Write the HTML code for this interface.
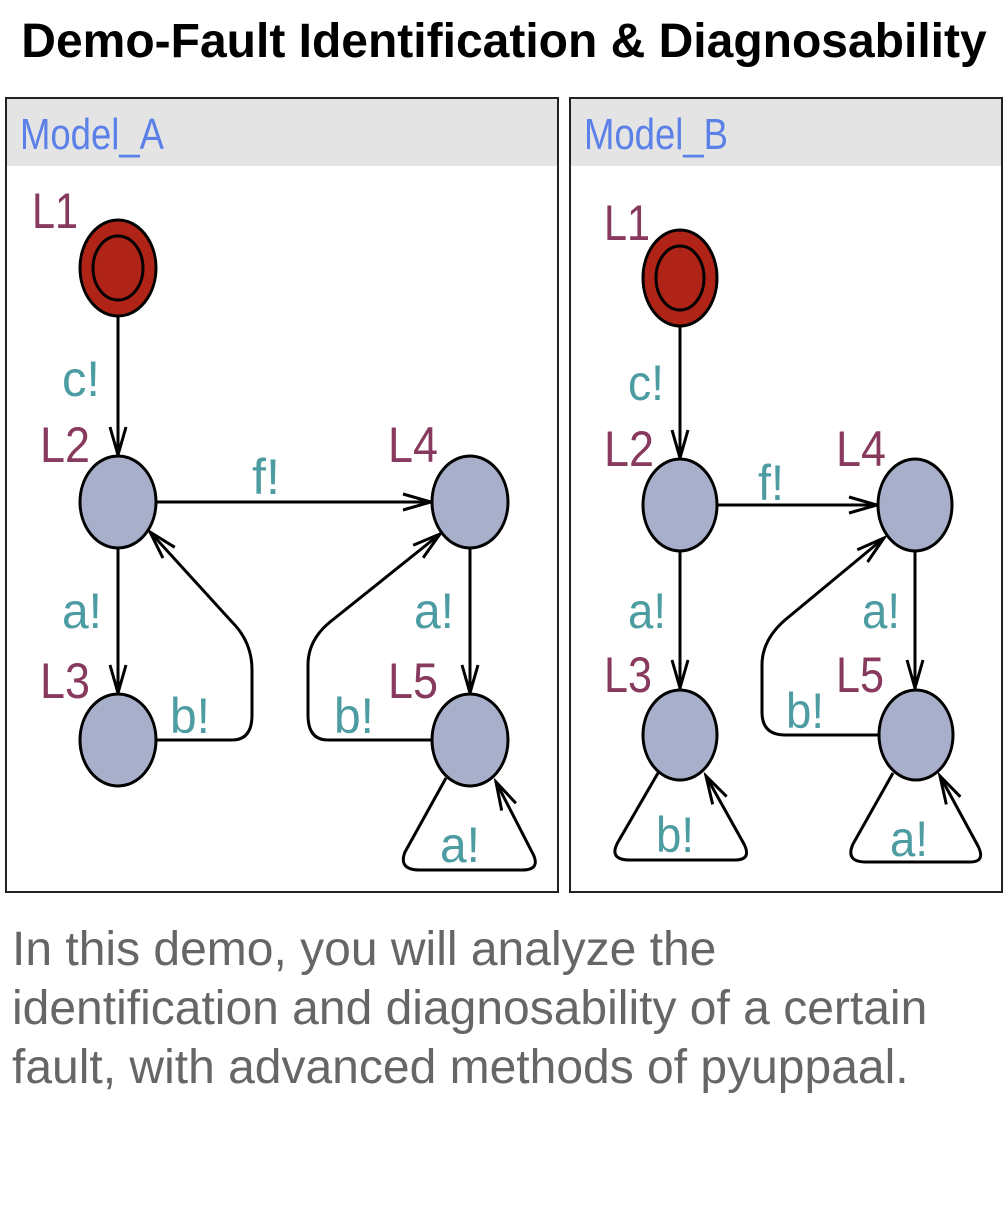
<!DOCTYPE html>
<html><head><meta charset="utf-8"><style>
html,body{margin:0;padding:0;background:#fff;}
body{width:1008px;height:1224px;position:relative;overflow:hidden;font-family:"Liberation Sans",sans-serif;}
.t{position:absolute;left:0;width:1008px;top:14px;text-align:center;font-weight:bold;font-size:48px;color:#000;white-space:nowrap;}
.d{position:absolute;left:12px;top:920px;font-size:48px;line-height:59px;color:#666;width:1000px;white-space:nowrap;}
svg{position:absolute;left:0;top:0;}
</style></head><body>
<div class="t">Demo-Fault Identification &amp; Diagnosability</div>
<svg width="1008" height="900" viewBox="0 0 1008 900">
<defs><marker id="ar" markerWidth="34" markerHeight="24" refX="30" refY="12" orient="auto" markerUnits="userSpaceOnUse"><path d="M2 4 L30 12 L2 20" fill="none" stroke="#000" stroke-width="3"/></marker></defs>
<g font-family="Liberation Sans, sans-serif">
<!-- Panel A -->
<rect x="6" y="98" width="552" height="794" fill="#fff" stroke="#222" stroke-width="2"/>
<rect x="7" y="99" width="550" height="67" fill="#e4e4e4"/>
<text x="20" y="149" font-size="44" fill="#5b80e8" textLength="144" lengthAdjust="spacingAndGlyphs">Model_A</text>
<g fill="none" stroke="#000" stroke-width="3">
<path d="M118 316 L118 455" marker-end="url(#ar)"/>
<path d="M156 502 L431 502" marker-end="url(#ar)"/>
<path d="M118 548 L118 693" marker-end="url(#ar)"/>
<path d="M470 548 L470 693" marker-end="url(#ar)"/>
<path d="M156 740 L232 740 Q252 740 252 715 L252 670 Q252 642 232 622 L150 532" marker-end="url(#ar)"/>
<path d="M432 740 L328 740 Q308 740 308 715 L308 665 Q308 640 330 622 L440 534" marker-end="url(#ar)"/>
<path d="M446 778 L405 852 Q398 870 420 870 L522 870 Q542 870 532 852 L496 782" marker-end="url(#ar)"/>
</g>
<ellipse cx="118" cy="268" rx="38" ry="48" fill="#b02418" stroke="#000" stroke-width="3"/>
<ellipse cx="118" cy="268" rx="25" ry="32" fill="none" stroke="#000" stroke-width="3"/>
<g fill="#a7afcb" stroke="#000" stroke-width="3">
<ellipse cx="118" cy="502" rx="38" ry="46"/><ellipse cx="470" cy="502" rx="38" ry="46"/>
<ellipse cx="118" cy="740" rx="38" ry="46"/><ellipse cx="470" cy="740" rx="38" ry="46"/>
</g>
<g font-size="50" fill="#883a5e">
<text x="32" y="228" textLength="46" lengthAdjust="spacingAndGlyphs">L1</text>
<text x="40" y="462" textLength="50" lengthAdjust="spacingAndGlyphs">L2</text>
<text x="388" y="462" textLength="50" lengthAdjust="spacingAndGlyphs">L4</text>
<text x="40" y="698" textLength="50" lengthAdjust="spacingAndGlyphs">L3</text>
<text x="388" y="698" textLength="50" lengthAdjust="spacingAndGlyphs">L5</text>
</g>
<g font-size="50" fill="#4c9ca2">
<text x="62" y="396" textLength="38" lengthAdjust="spacingAndGlyphs">c!</text>
<text x="252" y="494" textLength="28" lengthAdjust="spacingAndGlyphs">f!</text>
<text x="62" y="628" textLength="40" lengthAdjust="spacingAndGlyphs">a!</text>
<text x="170" y="733" textLength="40" lengthAdjust="spacingAndGlyphs">b!</text>
<text x="414" y="628" textLength="40" lengthAdjust="spacingAndGlyphs">a!</text>
<text x="334" y="733" textLength="40" lengthAdjust="spacingAndGlyphs">b!</text>
<text x="440" y="862" textLength="40" lengthAdjust="spacingAndGlyphs">a!</text>
</g>
<!-- Panel B -->
<rect x="570" y="98" width="432" height="794" fill="#fff" stroke="#222" stroke-width="2"/>
<rect x="571" y="99" width="430" height="67" fill="#e4e4e4"/>
<text x="584" y="149" font-size="44" fill="#5b80e8" textLength="144" lengthAdjust="spacingAndGlyphs">Model_B</text>
<g fill="none" stroke="#000" stroke-width="3">
<path d="M680 326 L680 458" marker-end="url(#ar)"/>
<path d="M718 505 L877 505" marker-end="url(#ar)"/>
<path d="M680 551 L680 688" marker-end="url(#ar)"/>
<path d="M915 551 L915 688" marker-end="url(#ar)"/>
<path d="M878 735 L785 735 Q762 735 762 712 L762 665 Q762 640 785 620 L884 538" marker-end="url(#ar)"/>
<path d="M658 773 L618 842 Q608 860 630 860 L735 860 Q752 860 744 844 L706 776" marker-end="url(#ar)"/>
<path d="M893 773 L853 844 Q845 862 866 862 L970 862 Q986 862 978 846 L940 776" marker-end="url(#ar)"/>
</g>
<ellipse cx="680" cy="278" rx="37" ry="48" fill="#b02418" stroke="#000" stroke-width="3"/>
<ellipse cx="680" cy="278" rx="24" ry="32" fill="none" stroke="#000" stroke-width="3"/>
<g fill="#a7afcb" stroke="#000" stroke-width="3">
<ellipse cx="680" cy="505" rx="37" ry="46"/><ellipse cx="915" cy="505" rx="37" ry="46"/>
<ellipse cx="680" cy="735" rx="37" ry="45"/><ellipse cx="916" cy="735" rx="37" ry="45"/>
</g>
<g font-size="50" fill="#883a5e">
<text x="604" y="240" textLength="46" lengthAdjust="spacingAndGlyphs">L1</text>
<text x="604" y="466" textLength="50" lengthAdjust="spacingAndGlyphs">L2</text>
<text x="836" y="466" textLength="50" lengthAdjust="spacingAndGlyphs">L4</text>
<text x="604" y="692" textLength="48" lengthAdjust="spacingAndGlyphs">L3</text>
<text x="836" y="692" textLength="48" lengthAdjust="spacingAndGlyphs">L5</text>
</g>
<g font-size="50" fill="#4c9ca2">
<text x="628" y="400" textLength="36" lengthAdjust="spacingAndGlyphs">c!</text>
<text x="758" y="500" textLength="26" lengthAdjust="spacingAndGlyphs">f!</text>
<text x="628" y="628" textLength="38" lengthAdjust="spacingAndGlyphs">a!</text>
<text x="862" y="628" textLength="38" lengthAdjust="spacingAndGlyphs">a!</text>
<text x="786" y="728" textLength="38" lengthAdjust="spacingAndGlyphs">b!</text>
<text x="656" y="852" textLength="38" lengthAdjust="spacingAndGlyphs">b!</text>
<text x="890" y="856" textLength="38" lengthAdjust="spacingAndGlyphs">a!</text>
</g>
</g>
</svg>
<div class="d">In this demo, you will analyze the<br>identification and diagnosability of a certain<br>fault, with advanced methods of pyuppaal.</div>
</body></html>
